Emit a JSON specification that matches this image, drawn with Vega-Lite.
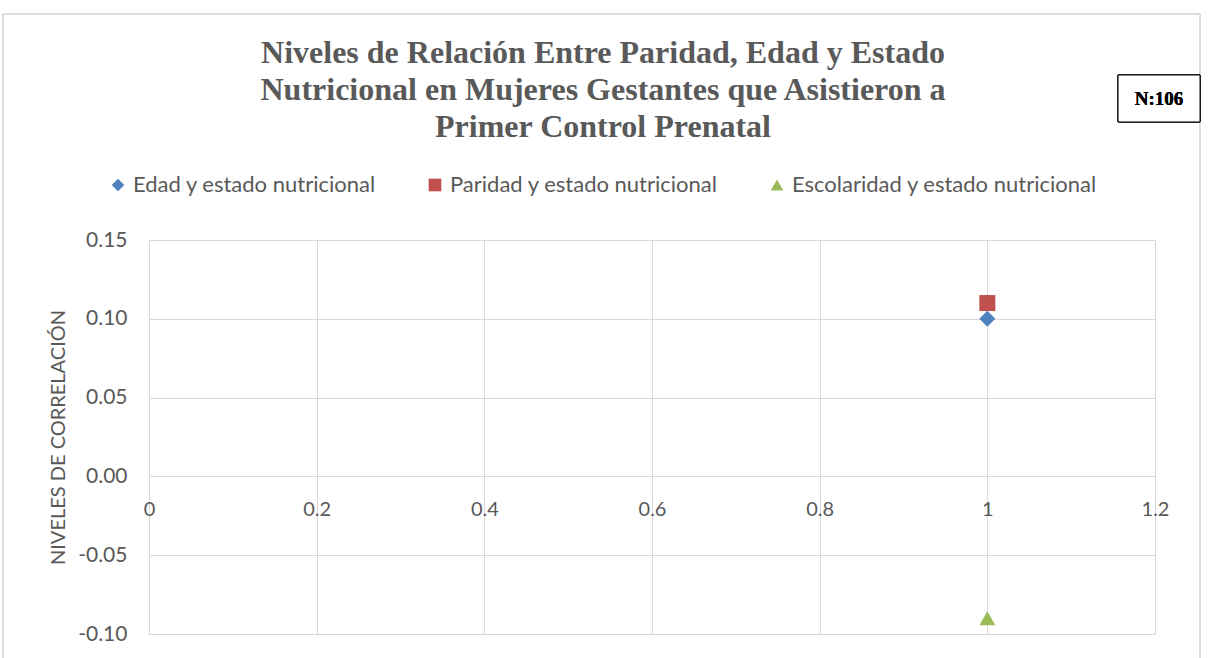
{
  "$schema": "https://vega.github.io/schema/vega-lite/v6.json",
  "width": 1006,
  "height": 394,
  "autosize": {"type": "none"},
  "padding": {"left": 149, "top": 240, "right": 54, "bottom": 24},
  "background": "white",
  "config": {"view": {"stroke": null}, "font": "Lato"},
  "title": {
    "text": ["Niveles de Relación Entre Paridad, Edad y Estado", "Nutricional en Mujeres Gestantes que Asistieron a", "Primer Control Prenatal"],
    "font": "Liberation Serif",
    "fontSize": 32,
    "fontWeight": "bold",
    "color": "#595959",
    "anchor": "middle",
    "dx": -49,
    "offset": -130,
    "lineHeight": 37
  },
  "data": {
    "values": [
      {"x": 1, "y": 0.10, "serie": "Edad y estado nutricional"},
      {"x": 1, "y": 0.11, "serie": "Paridad y estado nutricional"},
      {"x": 1, "y": -0.09, "serie": "Escolaridad y estado nutricional"}
    ]
  },
  "layer": [
    {
      "mark": {"type": "point", "filled": true, "opacity": 1, "size": 256},
      "encoding": {
        "x": {
          "field": "x",
          "type": "quantitative",
          "scale": {"domain": [0, 1.2], "nice": false, "zero": false},
          "axis": {
            "title": null,
            "values": [0, 0.2, 0.4, 0.6, 0.8, 1, 1.2],
            "format": "~g",
            "offset": -158,
            "domain": false,
            "ticks": false,
            "grid": true,
            "labelPadding": 23,
            "labelFontSize": 20,
            "labelColor": "#595959",
            "labelFlush": false,
            "gridColor": "#D9D9D9"
          }
        },
        "y": {
          "field": "y",
          "type": "quantitative",
          "scale": {"domain": [-0.1, 0.15], "nice": false, "zero": false},
          "axis": {
            "title": "NIVELES DE CORRELACIÓN",
            "values": [-0.1, -0.05, 0, 0.05, 0.1, 0.15],
            "labelExpr": "replace(format(datum.value, '.2f'), '\u2212', '-')",
            "domain": false,
            "ticks": false,
            "grid": true,
            "labelPadding": 22,
            "labelFontSize": 21,
            "labelColor": "#595959",
            "titleFontSize": 20,
            "titleFontWeight": "normal",
            "titleColor": "#595959",
            "titlePadding": 9,
            "gridColor": "#D9D9D9"
          }
        },
        "color": {
          "field": "serie",
          "type": "nominal",
          "scale": {
            "domain": ["Edad y estado nutricional", "Paridad y estado nutricional", "Escolaridad y estado nutricional"],
            "range": ["#4F81BD", "#C0504D", "#9BBB59"]
          },
          "legend": {
            "orient": "none",
            "direction": "horizontal",
            "legendX": -42,
            "legendY": -66,
            "title": null,
            "labelFontSize": 22,
            "labelLimit": 0,
            "labelColor": "#595959",
            "symbolSize": 160,
            "columnPadding": 47,
            "symbolOpacity": 1
          }
        },
        "shape": {
          "field": "serie",
          "type": "nominal",
          "scale": {
            "domain": ["Edad y estado nutricional", "Paridad y estado nutricional", "Escolaridad y estado nutricional"],
            "range": ["diamond", "square", "triangle-up"]
          }
        }
      }
    },
    {
      "mark": {"type": "rect", "fill": null, "stroke": "#D9D9D9", "strokeWidth": 1},
      "encoding": {
        "x": {"datum": -0.1742},
        "x2": {"datum": 1.2537},
        "y": {"datum": 0.2934},
        "y2": {"datum": -0.15}
      }
    },
    {
      "mark": {"type": "rect", "fill": "white", "stroke": "#000000", "strokeWidth": 1},
      "encoding": {
        "x": {"datum": 1.1559},
        "x2": {"datum": 1.2537},
        "y": {"datum": 0.2547},
        "y2": {"datum": 0.2249}
      }
    },
    {
      "mark": {"type": "text", "font": "Liberation Serif", "fontWeight": "bold", "fontSize": 19, "color": "#000000", "align": "center", "baseline": "middle"},
      "encoding": {
        "x": {"datum": 1.2048},
        "y": {"datum": 0.2395},
        "text": {"value": "N:106"}
      }
    }
  ]
}
